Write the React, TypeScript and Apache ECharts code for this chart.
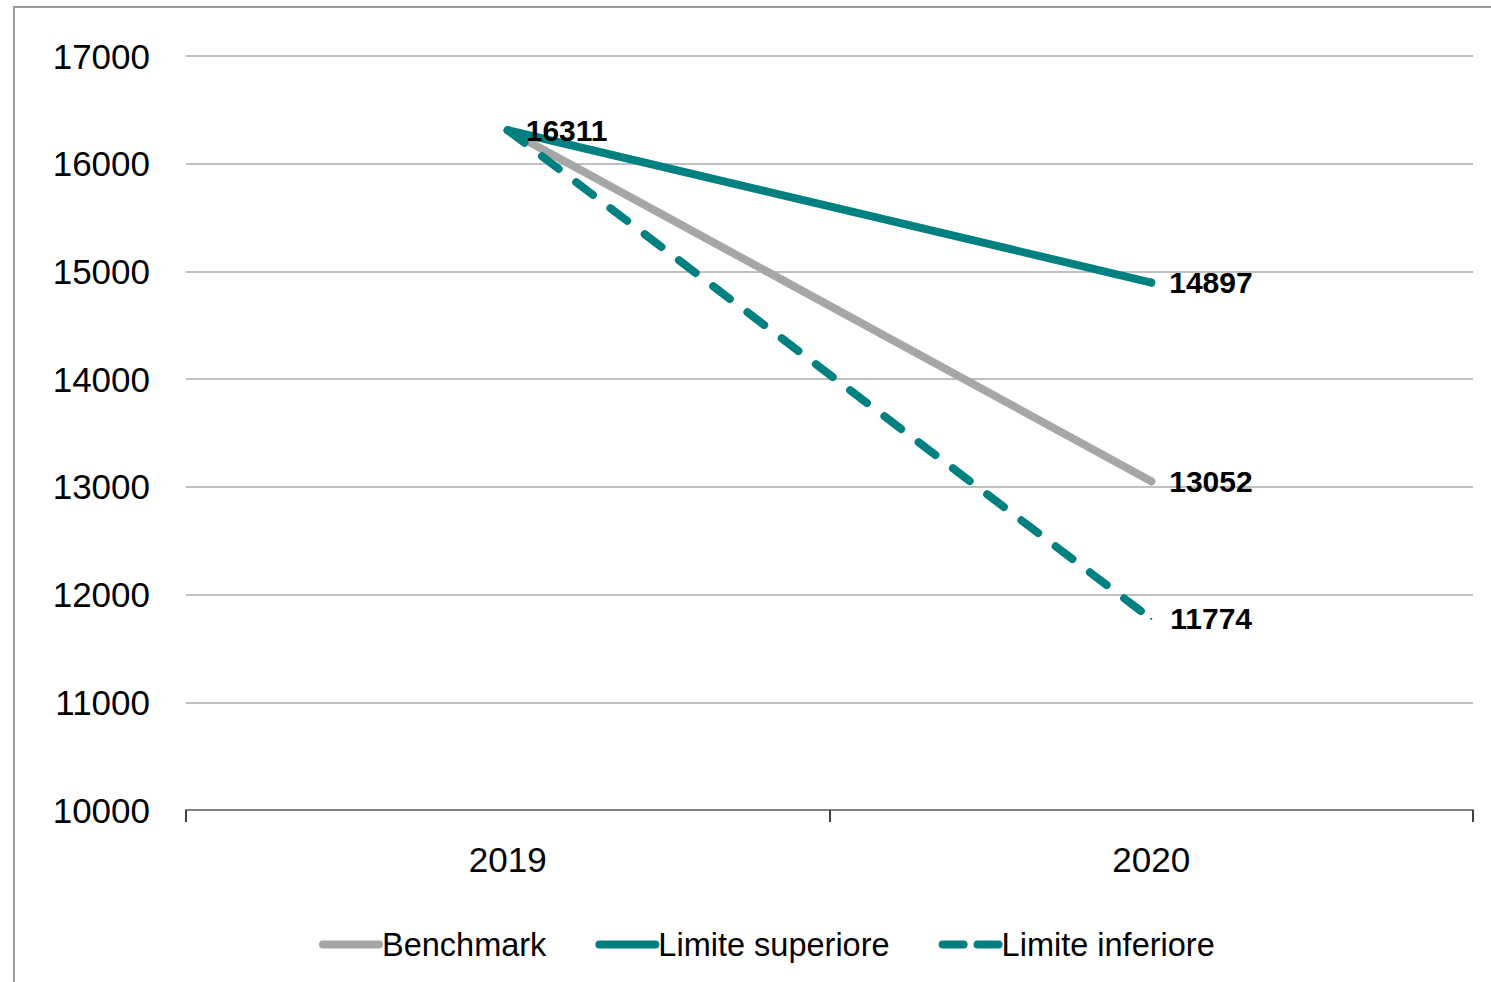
import React, { useEffect, useRef } from "react";
import * as echarts from "echarts";

const categories = ["2019", "2020"];
const benchmark = [16311, 13052];
const limiteSuperiore = [16311, 14897];
const limiteInferiore = [16311, 11774];
const yMin = 10000;
const yMax = 17000;
const yInterval = 1000;

const FONT = "'Liberation Sans', Arial, sans-serif";
const GRAY = "#a6a6a6";
const TEAL = "#008080";

function labelStyle(distance: number) {
  return {
    show: true,
    position: "right" as const,
    distance,
    color: "#000",
    fontFamily: FONT,
    fontWeight: "bold" as const,
    fontSize: 30,
  };
}

function withLabels(values: number[], labelIdx: number[], distance: number) {
  return values.map((v, i) =>
    labelIdx.includes(i) ? { value: v, label: labelStyle(distance) } : { value: v, label: { show: false } }
  );
}

export default function App() {
  const ref = useRef<HTMLDivElement>(null);
  useEffect(() => {
    if (!ref.current) return;
    const chart = echarts.init(ref.current, null, { renderer: "svg" });
    chart.setOption({
      animation: false,
      backgroundColor: "#fff",
      graphic: [
        {
          type: "polyline",
          shape: { points: [[14, 1100], [14, 7], [1600, 7]] },
          style: { stroke: "#9a9a9a", lineWidth: 2, fill: null },
          silent: true,
        },
      ],
      grid: { left: 186, right: 18, top: 56, bottom: 172, containLabel: false },
      legend: {
        left: 314,
        top: 923,
        itemWidth: 56,
        itemHeight: 8,
        itemGap: 49,
        itemStyle: { opacity: 0 },
        lineStyle: { width: 8, cap: "round" },
        textStyle: { fontFamily: FONT, fontSize: 32.5, color: "#000", padding: [0, 0, 0, -2] },
        data: [
          { name: "Benchmark", lineStyle: { width: 8, color: GRAY, cap: "round" } },
          { name: "Limite superiore", lineStyle: { width: 8, color: TEAL, cap: "round" } },
          { name: "Limite inferiore", lineStyle: { width: 8, color: TEAL, cap: "round", type: [21, 14] } },
        ],
      },
      xAxis: {
        type: "category",
        data: categories,
        boundaryGap: true,
        axisLine: { show: true, lineStyle: { color: "#808080", width: 2 } },
        axisTick: { show: true, length: 12, lineStyle: { color: "#404040", width: 2 } },
        axisLabel: { fontFamily: FONT, fontSize: 35, color: "#000", margin: 32 },
        splitLine: { show: false },
      },
      yAxis: {
        type: "value",
        min: yMin,
        max: yMax,
        interval: yInterval,
        axisLine: { show: false },
        axisTick: { show: false },
        axisLabel: {
          fontFamily: FONT,
          fontSize: 35,
          color: "#000",
          margin: 36,
          formatter: (v: number) => String(v),
        },
        splitLine: { show: true, lineStyle: { color: "#bfbfbf", width: 2 } },
      },
      series: [
        {
          name: "Benchmark",
          type: "line",
          data: withLabels(benchmark, [1], 14),
          symbol: "circle",
          symbolSize: 8,
          showSymbol: true,
          itemStyle: { color: GRAY },
          lineStyle: { color: GRAY, width: 8, cap: "round" },
          z: 2,
        },
        {
          name: "Limite superiore",
          type: "line",
          data: withLabels(limiteSuperiore, [0, 1], 14),
          symbol: "circle",
          symbolSize: 8,
          showSymbol: true,
          itemStyle: { color: TEAL },
          lineStyle: { color: TEAL, width: 8, cap: "round" },
          z: 4,
        },
        {
          name: "Limite inferiore",
          type: "line",
          data: withLabels(limiteInferiore, [1], 18),
          symbol: "circle",
          symbolSize: 2,
          showSymbol: true,
          itemStyle: { color: TEAL },
          lineStyle: { color: TEAL, width: 8, cap: "round", type: [21, 22] },
          z: 3,
        },
      ],
    });
    return () => chart.dispose();
  }, []);
  return (
    <div
      ref={ref}
      style={{ position: "fixed", left: 0, top: 0, width: 1491, height: 982 }}
    />
  );
}
